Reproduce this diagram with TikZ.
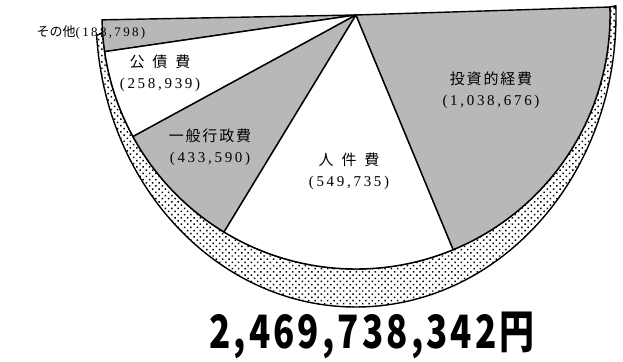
\documentclass[tikz,border=0pt]{standalone}
\usepackage{fontspec}
\setmainfont{Liberation Serif}
\newfontfamily\jp{Noto Sans CJK JP}
\newfontfamily\jpsp[LetterSpace=12]{Noto Sans CJK JP}
\newfontfamily\numfont[LetterSpace=18]{Liberation Serif}
\newfontfamily\totalfont[LetterSpace=9]{Noto Sans CJK JP}
\usetikzlibrary{patterns.meta}
\definecolor{wedgegray}{gray}{0.72}
\begin{document}
\begin{tikzpicture}[x=1pt, y=1pt,
	wedge/.style={draw=black, line width=1.4pt, line join=round},
	lbl/.style={inner sep=0pt, align=center, font=\fontsize{15}{21}\selectfont}]
	\useasboundingbox (0,0) rectangle (623,361);
	\coordinate (o) at (356,346);
	\draw[wedge, pattern={Dots[distance=4.5pt, angle=45, radius=1.05pt]}] ([shift={(184:260 and 292)}]o) arc[start angle=184, end angle=361.8, x radius=260, y radius=292] -- ([shift={(361.8:254)}]o) arc[start angle=361.8, end angle=184, radius=254] -- cycle;
	\draw[wedge, fill=wedgegray] (o) -- ([shift={(181.1:254)}]o) arc[start angle=181.1, end angle=188.3, radius=254] -- cycle;
	\draw[wedge, fill=white] (o) -- ([shift={(188.3:254)}]o) arc[start angle=188.3, end angle=208.6, radius=254] -- cycle;
	\draw[wedge, fill=wedgegray] (o) -- ([shift={(208.6:254)}]o) arc[start angle=208.6, end angle=238.7, radius=254] -- cycle;
	\draw[wedge, fill=white] (o) -- ([shift={(238.7:254)}]o) arc[start angle=238.7, end angle=292.5, radius=254] -- cycle;
	\draw[wedge, fill=wedgegray] (o) -- ([shift={(292.5:254)}]o) arc[start angle=292.5, end angle=361.8, radius=254] -- cycle;
	\node[lbl] (sonota) at (91,329) {\fontsize{13}{14}\selectfont\jp その他\numfont(188,798)};
	\node[lbl] (kosai) at (160,288) {\jp 公\hspace{8pt}債\hspace{8pt}費\\\numfont(258,939)};
	\node[lbl] (ippan) at (210,214) {\jpsp 一般行政費\\\numfont(433,590)};
	\node[lbl] (jinken) at (349,190) {\jp 人\hspace{8pt}件\hspace{8pt}費\\\numfont(549,735)};
	\node[lbl] (toshi) at (491,271) {\jpsp 投資的経費\\\numfont(1,038,676)};
	\node[inner sep=0pt] (total) at (372,26) {\scalebox{0.76}[1]{\totalfont\bfseries\fontsize{46}{50}\selectfont 2,469,738,342円}};
\end{tikzpicture}
\end{document}
